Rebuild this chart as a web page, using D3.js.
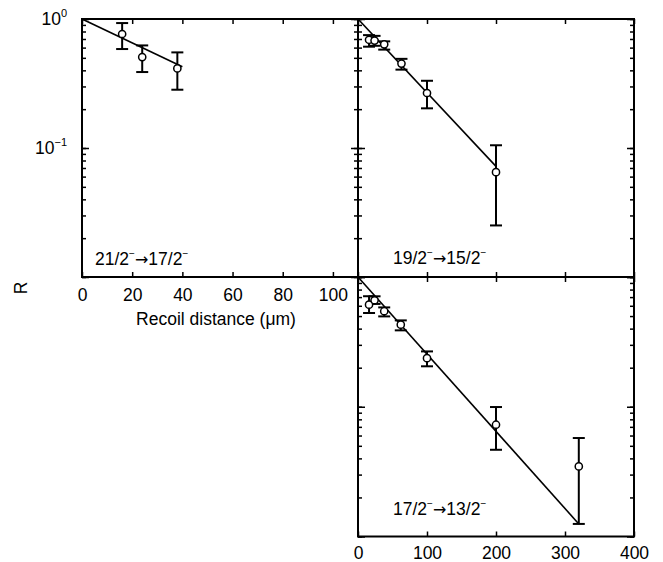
<!DOCTYPE html>
<html>
<head>
<meta charset="utf-8">
<title>R vs recoil distance</title>
<script src="https://d3js.org/d3.v7.min.js"></script>
<style>
  body, html { margin: 0; padding: 0; background: #fff; overflow: hidden; }
  svg { display: block; background: #fff; }
  .tick text, .lbl { font-family: "Liberation Sans", Arial, Helvetica, sans-serif; font-size: 17.5px; fill: #000; }
</style>
</head>
<body>
<svg id="chart" width="663" height="562"></svg>
<script>
// 21/2- -> 17/2-
var dist21 = [16, 24, 38];
var r21  = [0.765, 0.507, 0.414];
var hi21 = [0.93, 0.624, 0.551];
var lo21 = [0.585, 0.388, 0.283];
var fit21 = [[0, 1], [40, 0.427]];

// 19/2- -> 15/2-
var dist19 = [16, 24, 38, 63, 100, 200];
var r19  = [0.69, 0.68, 0.636, 0.451, 0.267, 0.065];
var hi19 = [0.75, 0.74, 0.671, 0.491, 0.332, 0.105];
var lo19 = [0.61, 0.62, 0.579, 0.405, 0.203, 0.0251];
var fit19 = [[0, 1], [200, 0.072]];

// 17/2- -> 13/2-
var dist17 = [16, 24, 38, 62, 100, 200, 320];
var r17  = [0.612, 0.662, 0.545, 0.429, 0.237, 0.0727, 0.0347];
var hi17 = [0.711, 0.71, 0.583, 0.463, 0.267, 0.0995, 0.0574];
var lo17 = [0.528, 0.62, 0.497, 0.388, 0.205, 0.0466, 0.0125];
var fit17 = [[0, 1], [320, 0.0125]];

var xTicksShort = [0, 20, 40, 60, 80, 100];
var xTicksLong = [0, 100, 200, 300, 400];
var yMajor = [1, 0.1, 0.01];
var yLabelValues = [1, 0.1];
var yLabelExps = ["0", "\u22121"];

var svg = d3.select("#chart");
// panel edges (px)
var pxLeft = 82, pxMid = 358, pxRight = 634, pxTop = 19, pxHMid = 277, pxBottom = 536.5;

var xShort = d3.scaleLinear().domain([0, 110]).range([pxLeft, pxMid]);
var xLong = d3.scaleLinear().domain([0, 400]).range([pxMid, pxRight]);
var yTop = d3.scaleLog().domain([0.01, 1]).range([pxHMid, pxTop]);
var yBot = d3.scaleLog().domain([0.01, 1]).range([pxBottom, pxHMid]);

function noDomain(g) { g.select(".domain").remove(); g.selectAll("line").attr("stroke-width", 1.5); }

function frame(x, y, xTicks, showX, pad) {
  var x0 = x.range()[0], x1 = x.range()[1], y0 = y.range()[1], y1 = y.range()[0];
  var g = svg.append("g");
  g.append("g").attr("transform", "translate(0," + y1 + ")")
    .call(d3.axisBottom(x).tickValues(xTicks).tickSize(-5).tickSizeOuter(0).tickPadding(pad)
      .tickFormat(showX ? d3.format("d") : ""))
    .call(noDomain);
  g.append("g").attr("transform", "translate(0," + y0 + ")")
    .call(d3.axisTop(x).tickValues(xTicks).tickSize(-5).tickSizeOuter(0).tickFormat(""))
    .call(noDomain);
  // minor + major ticks on both sides
  [[d3.axisLeft, x0], [d3.axisRight, x1]].forEach(function(s) {
    g.append("g").attr("transform", "translate(" + s[1] + ",0)")
      .call(s[0](y).tickValues(y.ticks()).tickSize(-4).tickSizeOuter(0).tickFormat(""))
      .call(noDomain);
    g.append("g").attr("transform", "translate(" + s[1] + ",0)")
      .call(s[0](y).tickValues(yMajor).tickSize(-7).tickSizeOuter(0).tickFormat(""))
      .call(noDomain);
  });
  g.append("rect").attr("x", x0).attr("y", y0).attr("width", x1 - x0).attr("height", y1 - y0)
    .attr("fill", "none").attr("stroke", "#000").attr("stroke-width", 2);
}

function points(x, y, dist, r, hi, lo, fit) {
  var data = dist.map(function(d, i) { return {d: d, r: r[i], hi: hi[i], lo: lo[i]}; });
  var g = svg.append("g");
  g.append("path").datum(fit)
    .attr("d", d3.line().x(function(d) { return x(d[0]); }).y(function(d) { return y(d[1]); }))
    .attr("fill", "none").attr("stroke", "#000").attr("stroke-width", 1.6);
  var e = g.selectAll(".err").data(data).join("g").attr("class", "err")
    .attr("stroke", "#000").attr("stroke-width", 2);
  e.append("line").attr("x1", function(d) { return x(d.d); }).attr("x2", function(d) { return x(d.d); })
    .attr("y1", function(d) { return y(d.hi); }).attr("y2", function(d) { return y(d.lo); });
  e.append("line").attr("x1", function(d) { return x(d.d) - 6; }).attr("x2", function(d) { return x(d.d) + 6; })
    .attr("y1", function(d) { return y(d.hi); }).attr("y2", function(d) { return y(d.hi); });
  e.append("line").attr("x1", function(d) { return x(d.d) - 6; }).attr("x2", function(d) { return x(d.d) + 6; })
    .attr("y1", function(d) { return y(d.lo); }).attr("y2", function(d) { return y(d.lo); });
  g.selectAll("circle").data(data).join("circle")
    .attr("cx", function(d) { return x(d.d); }).attr("cy", function(d) { return y(d.r); })
    .attr("r", 3.6).attr("fill", "#fff").attr("stroke", "#000").attr("stroke-width", 1.5);
}

function transLabel(px, py, from, to) {
  var t = svg.append("text").attr("class", "lbl").attr("x", px).attr("y", py);
  t.append("tspan").text(from);
  t.append("tspan").attr("dy", -8).style("font-size", "10px").text("\u2212");
  t.append("tspan").attr("dy", 8).style("font-family", "'DejaVu Sans'").style("font-size", "16px").text("\u2192");
  t.append("tspan").text(to);
  t.append("tspan").attr("dy", -8).style("font-size", "10px").text("\u2212");
}

frame(xShort, yTop, xTicksShort, true, 12);
frame(xLong, yTop, xTicksLong, false, 0);
frame(xLong, yBot, xTicksLong, true, 10);

points(xShort, yTop, dist21, r21, hi21, lo21, fit21);
points(xLong, yTop, dist19, r19, hi19, lo19, fit19);
points(xLong, yBot, dist17, r17, hi17, lo17, fit17);

transLabel(95, 265, "21/2", "17/2");
transLabel(393, 264, "19/2", "15/2");
transLabel(393, 515, "17/2", "13/2");

// y labels 10^n
yLabelValues.forEach(function(v, i) {
  var t = svg.append("text").attr("class", "lbl").attr("text-anchor", "end")
    .attr("x", 67).attr("y", yTop(v) + 6);
  t.append("tspan").text("10");
  t.append("tspan").attr("dy", -8).style("font-size", "11px").text(yLabelExps[i]);
});

svg.append("text").attr("class", "lbl").attr("text-anchor", "middle")
  .attr("transform", "translate(27,288) rotate(-90)").text("R");

svg.append("text").attr("class", "lbl").attr("text-anchor", "middle")
  .attr("x", 216).attr("y", 325).text("Recoil distance (\u03bcm)");
</script>
</body>
</html>
